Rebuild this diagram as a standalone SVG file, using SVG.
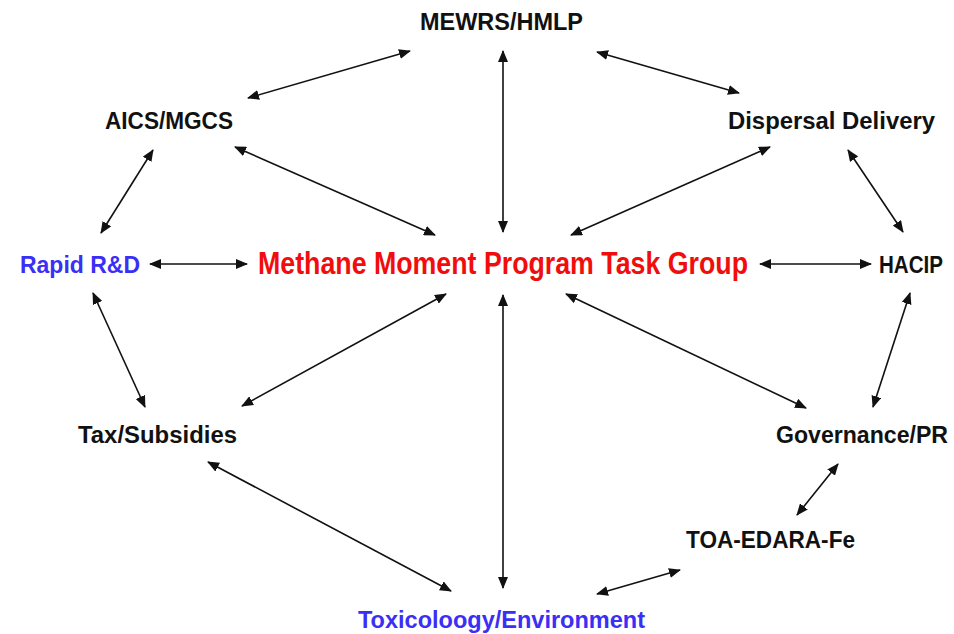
<svg xmlns="http://www.w3.org/2000/svg" width="954" height="634" viewBox="0 0 954 634">
<style>
text{font-family:"Liberation Sans Narrow","Liberation Sans",Arial,sans-serif;font-weight:bold;font-size:23px;fill:#111;text-anchor:middle}
.blue{fill:#3b2ff5}
.red{fill:#f20d0d;font-size:31px}
.c line{stroke:#111;stroke-width:1.6;marker-start:url(#ah);marker-end:url(#ah)}
</style>
<defs>
<marker id="ah" viewBox="0 0 12 10" refX="11" refY="5" markerWidth="12" markerHeight="10" markerUnits="userSpaceOnUse" orient="auto-start-reverse">
<path d="M0,0 L12,5 L0,10 Z" fill="#111"/>
</marker>
</defs>
<rect width="954" height="634" fill="#fff"/>
<g class="c" id="connectors">
<line x1="248" y1="98" x2="410" y2="51"/>
<line x1="597" y1="52" x2="739" y2="93"/>
<line x1="503" y1="51" x2="503" y2="232"/>
<line x1="235" y1="147" x2="435" y2="235"/>
<line x1="770" y1="147" x2="571" y2="235"/>
<line x1="153" y1="150" x2="101" y2="233"/>
<line x1="848" y1="150" x2="903" y2="232"/>
<line x1="150" y1="264" x2="247" y2="264"/>
<line x1="760" y1="264" x2="871" y2="264"/>
<line x1="93" y1="293" x2="145" y2="407"/>
<line x1="910" y1="293" x2="873" y2="407"/>
<line x1="446" y1="294" x2="242" y2="406"/>
<line x1="566" y1="294" x2="806" y2="408"/>
<line x1="503" y1="295" x2="503" y2="588"/>
<line x1="208" y1="462" x2="451" y2="591"/>
<line x1="838" y1="464" x2="797" y2="515"/>
<line x1="680" y1="570" x2="597" y2="594"/>
</g>
<g id="mewrs"><text x="501.5" y="30" textLength="163" lengthAdjust="spacingAndGlyphs">MEWRS/HMLP</text></g>
<g id="aics"><text x="169" y="129" textLength="128" lengthAdjust="spacingAndGlyphs">AICS/MGCS</text></g>
<g id="dispersal"><text x="831.5" y="129" textLength="207" lengthAdjust="spacingAndGlyphs">Dispersal Delivery</text></g>
<g id="rapid"><text class="blue" x="80" y="273" textLength="120" lengthAdjust="spacingAndGlyphs">Rapid R&amp;D</text></g>
<g id="center"><text class="red" x="503" y="274" textLength="490" lengthAdjust="spacingAndGlyphs">Methane Moment Program Task Group</text></g>
<g id="hacip"><text x="911" y="273" textLength="64" lengthAdjust="spacingAndGlyphs">HACIP</text></g>
<g id="tax"><text x="157.5" y="443" textLength="159" lengthAdjust="spacingAndGlyphs">Tax/Subsidies</text></g>
<g id="governance"><text x="862" y="443" textLength="172" lengthAdjust="spacingAndGlyphs">Governance/PR</text></g>
<g id="toa"><text x="770.5" y="548" textLength="169" lengthAdjust="spacingAndGlyphs">TOA-EDARA-Fe</text></g>
<g id="tox"><text class="blue" x="501.5" y="628" textLength="287" lengthAdjust="spacingAndGlyphs">Toxicoloogy/Environment</text></g>
</svg>
